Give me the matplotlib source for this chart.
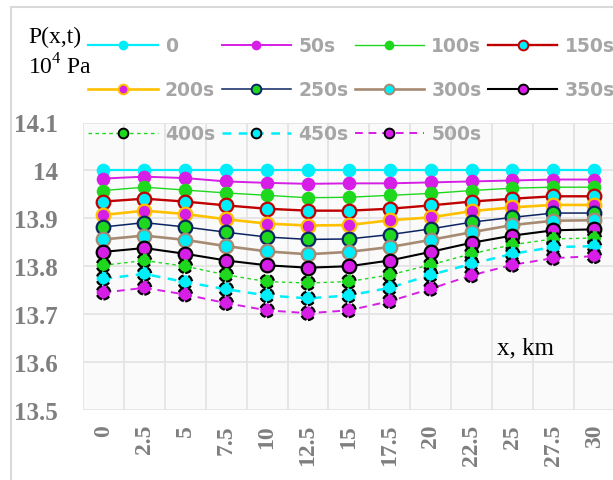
import matplotlib
matplotlib.use("Agg")
import matplotlib.pyplot as plt
from matplotlib.lines import Line2D
from matplotlib.patches import Rectangle
from matplotlib.ticker import FixedLocator, NullFormatter

plt.rcParams["mathtext.fontset"] = "custom"
plt.rcParams["mathtext.rm"] = "Liberation Serif"

# Distance along the section, km (category axis)
x_labels = ["0", "2.5", "5", "7.5", "10", "12.5", "15", "17.5", "20",
            "22.5", "25", "27.5", "30"]

# Pressure P(x,t), 10^4 Pa, at successive moments
p_0s = [14.000, 14.000, 14.000, 14.000, 14.000, 14.000, 14.000, 14.000, 14.000,
        14.000, 14.000, 14.000, 14.000]
p_50s = [13.983, 13.987, 13.984, 13.977, 13.974, 13.972, 13.973, 13.973, 13.975,
         13.977, 13.979, 13.981, 13.981]
p_100s = [13.958, 13.965, 13.959, 13.953, 13.948, 13.943, 13.944, 13.948, 13.952,
          13.958, 13.963, 13.965, 13.965]
p_150s = [13.935, 13.941, 13.935, 13.927, 13.920, 13.916, 13.916, 13.920, 13.927,
          13.935, 13.941, 13.946, 13.946]
p_200s = [13.907, 13.916, 13.909, 13.898, 13.889, 13.885, 13.886, 13.896, 13.902,
          13.915, 13.923, 13.928, 13.928]
p_250s = [13.882, 13.891, 13.882, 13.871, 13.861, 13.856, 13.857, 13.866, 13.878,
          13.892, 13.902, 13.911, 13.911]
p_300s = [13.856, 13.864, 13.855, 13.842, 13.831, 13.825, 13.830, 13.840, 13.855,
          13.871, 13.886, 13.895, 13.896]
p_350s = [13.830, 13.838, 13.826, 13.812, 13.802, 13.797, 13.800, 13.812, 13.830,
          13.849, 13.864, 13.875, 13.877]
p_400s = [13.802, 13.812, 13.800, 13.782, 13.768, 13.765, 13.768, 13.782, 13.803,
          13.826, 13.845, 13.857, 13.859]
p_450s = [13.774, 13.784, 13.767, 13.752, 13.739, 13.733, 13.739, 13.755, 13.782,
          13.805, 13.826, 13.840, 13.842]
p_500s = [13.745, 13.755, 13.741, 13.723, 13.708, 13.702, 13.708, 13.727, 13.753,
          13.781, 13.803, 13.817, 13.821]

series_names = ["0", "50s", "100s", "150s", "200s", "250s", "300s", "350s",
                "400s", "450s", "500s"]
series_values = [p_0s, p_50s, p_100s, p_150s, p_200s, p_250s, p_300s, p_350s,
                 p_400s, p_450s, p_500s]

y_ticks = [13.5, 13.6, 13.7, 13.8, 13.9, 14.0, 14.1]
y_tick_labels = ["13.5", "13.6", "13.7", "13.8", "13.9", "14", "14.1"]

CYAN = "#00eefa"
MAGENTA = "#d61ee6"
GREEN = "#1ed81e"
RED = "#c00000"
ORANGE = "#ffc000"
NAVY = "#0c2462"
BROWN = "#a68b72"
BLACK = "#000000"
GRAY_TXT = "#7f7f7f"
LEG_TXT = "#a6a6a6"
GRID = "#e4e4e4"

# line colour, line width, line style, marker fill, marker edge, dashed marker edge
styles = [
    (CYAN, 1.6, "-", CYAN, CYAN, False),
    (MAGENTA, 1.4, "-", MAGENTA, MAGENTA, False),
    (GREEN, 1.0, "-", GREEN, GREEN, False),
    (RED, 1.7, "-", CYAN, RED, False),
    (ORANGE, 1.9, "-", MAGENTA, ORANGE, False),
    (NAVY, 1.1, "-", GREEN, NAVY, False),
    (BROWN, 1.9, "-", CYAN, BROWN, False),
    (BLACK, 1.5, "-", MAGENTA, BLACK, False),
    (GREEN, 1.0, (0, (2.5, 2.5)), GREEN, BLACK, True),
    (CYAN, 1.8, (0, (3.5, 3.0)), CYAN, BLACK, True),
    (MAGENTA, 1.4, (0, (4.0, 3.0)), MAGENTA, BLACK, True),
]

W, H = 613, 481
fig = plt.figure(figsize=(W / 100, H / 100), dpi=100)

# chart frame
fig.patches.append(Rectangle((11 / W, -0.2), 1.2, 1 - 8 / H + 0.2,
                             transform=fig.transFigure, fill=False,
                             edgecolor="#d9d9d9", linewidth=1.5))

left, right = 83, 614.7
bottom, top = 411, 123.5
ax = fig.add_axes([left / W, 1 - bottom / H, (right - left) / W, (bottom - top) / H])
ax.set_facecolor("#fafafa")
for s in ax.spines.values():
    s.set_visible(False)

xs = list(range(len(x_labels)))
ms = 9.8
for name, vals, st in zip(series_names, series_values, styles):
    lc, lw, ls, mfc, mec, dashed_edge = st
    ax.plot(xs, vals, color=lc, lw=lw, ls=ls, zorder=3, solid_capstyle="butt")
    if dashed_edge:
        ax.scatter(xs, vals, s=ms ** 2, c=mfc, edgecolors=mec, linewidths=1.6,
                   linestyles=(0, (3, 2.2)), zorder=4)
    elif mec == mfc:
        ax.plot(xs, vals, ls="none", marker="o", ms=ms, mfc=mfc, mec=mfc,
                mew=0, zorder=4)
    else:
        ax.plot(xs, vals, ls="none", marker="o", ms=ms, mfc=mfc, mec=mec,
                mew=1.6, zorder=4)

ax.set_xlim(-0.5, len(x_labels) - 0.5)
ax.set_ylim(13.5, 14.1)

ax.set_xticks(xs)
ax.set_xticklabels(x_labels, rotation=90, fontfamily="Liberation Serif",
                   fontweight="bold", fontsize=17, color=GRAY_TXT)
ax.xaxis.set_minor_locator(FixedLocator([i - 0.5 for i in range(len(x_labels) + 1)]))
ax.xaxis.set_minor_formatter(NullFormatter())
ax.tick_params(axis="x", which="both", length=0, pad=10)
ax.grid(True, axis="x", which="minor", color=GRID, lw=1.3, zorder=0)

ax.set_yticks(y_ticks)
ax.set_yticklabels(y_tick_labels, fontfamily="Liberation Serif",
                   fontweight="bold", fontsize=18, color=GRAY_TXT)
ax.tick_params(axis="y", length=0, pad=18)
ax.grid(True, axis="y", which="major", color=GRID, lw=1.3, zorder=0)
ax.set_axisbelow(True)

fig.text(28 / W, 1 - 37 / H, "P(x,t)", fontfamily="Liberation Serif",
         fontsize=17, color="black", va="center", ha="left")
fig.text(28 / W, 1 - 67 / H, r"10$^{\mathregular{4}}$ Pa", fontfamily="Liberation Serif",
         fontsize=17, color="black", va="center", ha="left")
fig.text(497 / W, 1 - 348 / H, "x, km", fontfamily="Liberation Serif",
         fontsize=18, color="black", va="center", ha="left")

# legend, filled column by column
handles = []
for st in styles:
    lc, lw, ls, mfc, mec, dashed_edge = st
    if mec == mfc:
        h = Line2D([], [], color=lc, lw=lw, ls=ls, marker="o", ms=7, mfc=mfc,
                   mec=mfc, mew=0)
    else:
        h = Line2D([], [], color=lc, lw=lw, ls=ls, marker="o", ms=7, mfc=mfc,
                   mec=mec, mew=1.4)
    handles.append(h)
order = [0, 4, 8, 1, 5, 9, 2, 6, 10, 3, 7]
leg = fig.legend([handles[i] for i in order], [series_names[i] for i in order],
                 ncol=4, loc="upper left", bbox_to_anchor=(79 / W, 1 - 28 / H),
                 frameon=False, borderpad=0, handlelength=3.7, handletextpad=0.38,
                 columnspacing=0.35, labelspacing=1.33,
                 prop={"family": "DejaVu Sans", "weight": "bold", "size": 13.5})
for t in leg.get_texts():
    t.set_color(LEG_TXT)

fig.savefig("out.png", dpi=100)
